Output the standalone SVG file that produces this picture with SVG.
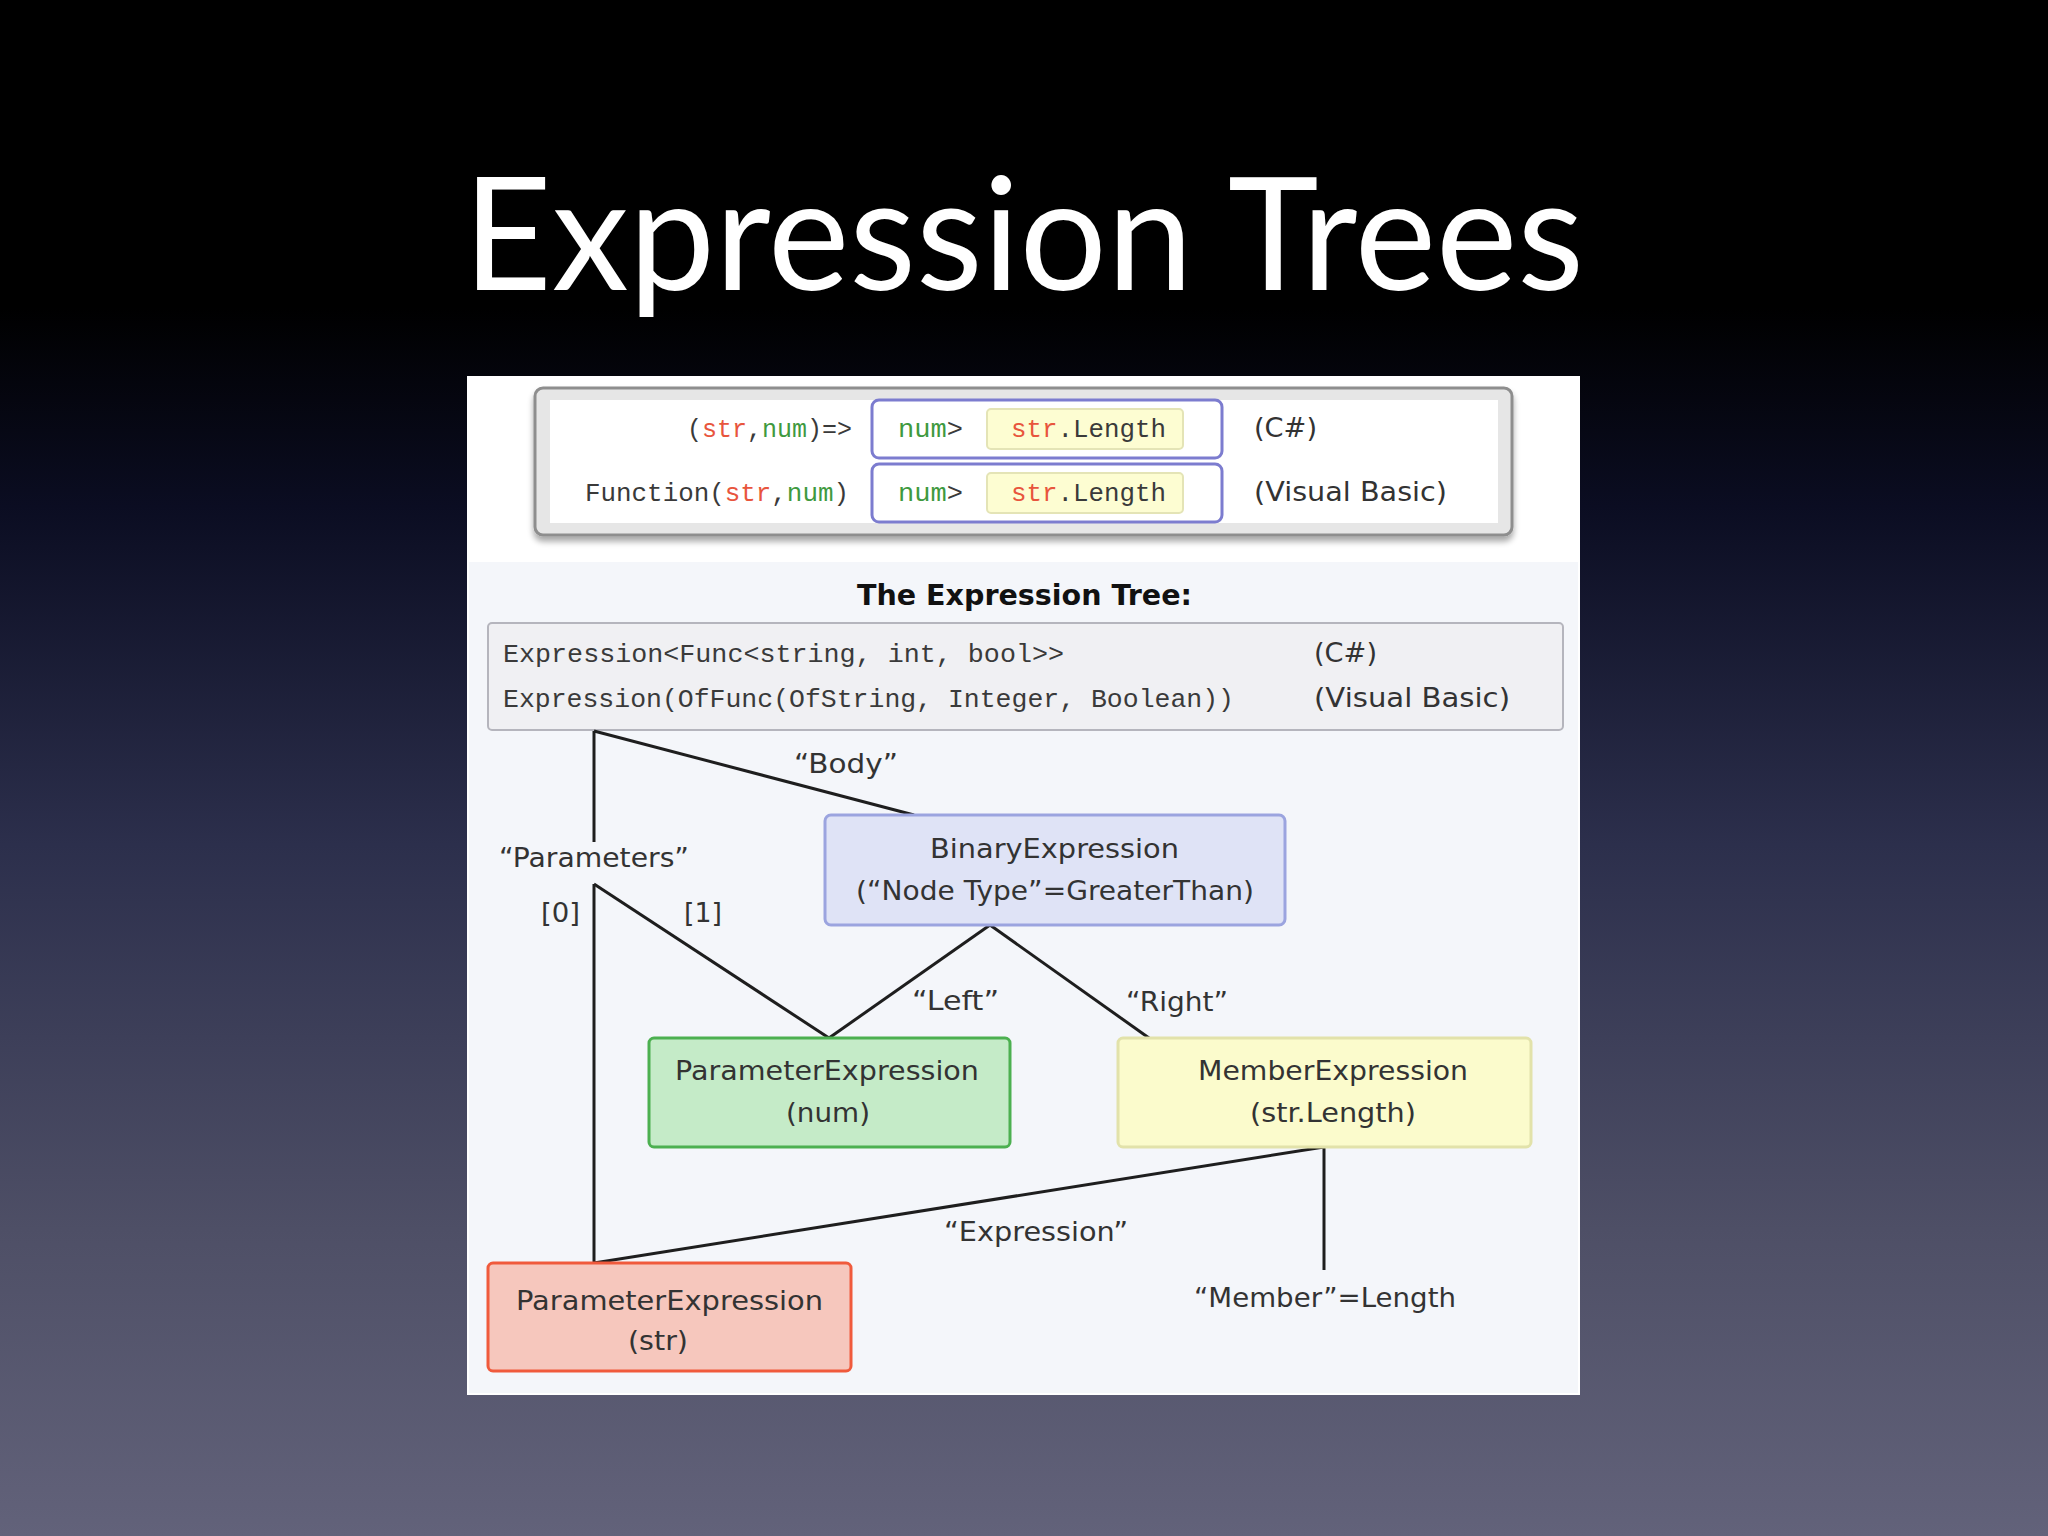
<svg xmlns="http://www.w3.org/2000/svg" width="2048" height="1536" viewBox="0 0 2048 1536">
<defs>
<linearGradient id="bg" x1="0" y1="0" x2="0" y2="1">
<stop offset="0" stop-color="#000000"/>
<stop offset="0.2" stop-color="#000000"/>
<stop offset="0.33" stop-color="#0b0d22"/>
<stop offset="0.55" stop-color="#2c2f4c"/>
<stop offset="0.8" stop-color="#4e4f66"/>
<stop offset="1" stop-color="#62627a"/>
</linearGradient>
<filter id="sh" x="-5%" y="-10%" width="110%" height="130%">
<feGaussianBlur in="SourceAlpha" stdDeviation="3"/>
<feOffset dx="0" dy="5" result="b"/>
<feComponentTransfer><feFuncA type="linear" slope="0.35"/></feComponentTransfer>
<feMerge><feMergeNode/><feMergeNode in="SourceGraphic"/></feMerge>
</filter>
</defs>
<style>
.code{font-family:"Liberation Mono","DejaVu Sans Mono",monospace;font-size:25px;fill:#3a3a3a}
.lbl{font-family:"DejaVu Sans","Liberation Sans",sans-serif;font-size:27px;fill:#333}
.s{fill:#e8553d}.n{fill:#3f9a3f}
.conn{stroke:#1e1e1e;stroke-width:3;fill:none}
.node text{font-family:"DejaVu Sans","Liberation Sans",sans-serif;font-size:27px;fill:#333}
</style>
<rect width="2048" height="1536" fill="url(#bg)"/>
<text x="463" y="290" font-family="Lato,'Open Sans',sans-serif" font-size="158" fill="#ffffff" textLength="1121" lengthAdjust="spacingAndGlyphs">Expression Trees</text>

<g id="panel">
<rect x="467" y="376" width="1113" height="1019" fill="#ffffff"/>
<rect x="469" y="562" width="1109" height="831" fill="#f4f6fa"/>
</g>

<g id="lambda-box">
<rect x="535" y="388" width="977" height="147" rx="8" fill="#e6e6e6" stroke="#8e8e8e" stroke-width="3" filter="url(#sh)"/>
<rect x="550" y="400" width="948" height="123" fill="#ffffff"/>
<rect x="872" y="400" width="350" height="58" rx="7" fill="#ffffff" stroke="#7c7ccf" stroke-width="3"/>
<rect x="872" y="464" width="350" height="58" rx="7" fill="#ffffff" stroke="#7c7ccf" stroke-width="3"/>
<rect x="987" y="409" width="196" height="40" rx="4" fill="#fdfdd2" stroke="#e4e4b6" stroke-width="2"/>
<rect x="987" y="473" width="196" height="40" rx="4" fill="#fdfdd2" stroke="#e4e4b6" stroke-width="2"/>
<text class="code" x="687" y="437" textLength="165" lengthAdjust="spacingAndGlyphs">(<tspan class="s">str</tspan>,<tspan class="n">num</tspan>)=&gt;</text>
<text class="code" x="898" y="437" textLength="65" lengthAdjust="spacingAndGlyphs"><tspan class="n">num</tspan>&gt;</text>
<text class="code" x="1011" y="437" textLength="155" lengthAdjust="spacingAndGlyphs"><tspan class="s">str</tspan>.Length</text>
<text class="lbl" x="1254" y="437" textLength="63" lengthAdjust="spacingAndGlyphs">(C#)</text>
<text class="code" x="585" y="501" textLength="264" lengthAdjust="spacingAndGlyphs">Function(<tspan class="s">str</tspan>,<tspan class="n">num</tspan>)</text>
<text class="code" x="898" y="501" textLength="65" lengthAdjust="spacingAndGlyphs"><tspan class="n">num</tspan>&gt;</text>
<text class="code" x="1011" y="501" textLength="155" lengthAdjust="spacingAndGlyphs"><tspan class="s">str</tspan>.Length</text>
<text class="lbl" x="1254" y="501" textLength="193" lengthAdjust="spacingAndGlyphs">(Visual Basic)</text>
</g>

<text x="857" y="605" font-family="'DejaVu Sans',sans-serif" font-weight="bold" font-size="29" fill="#111" textLength="335" lengthAdjust="spacingAndGlyphs">The Expression Tree:</text>

<g id="root-type">
<rect x="488" y="623" width="1075" height="107" rx="4" fill="#f0f0f3" stroke="#b5b5bd" stroke-width="2"/>
<text class="code" x="503" y="662" textLength="561" lengthAdjust="spacingAndGlyphs">Expression&lt;Func&lt;string, int, bool&gt;&gt;</text>
<text class="code" x="503" y="707" textLength="731" lengthAdjust="spacingAndGlyphs">Expression(OfFunc(OfString, Integer, Boolean))</text>
<text class="lbl" x="1314" y="662" textLength="63" lengthAdjust="spacingAndGlyphs">(C#)</text>
<text class="lbl" x="1314" y="707" textLength="196" lengthAdjust="spacingAndGlyphs">(Visual Basic)</text>
</g>

<g id="connectors">
<path class="conn" d="M594,731 V842"/>
<path class="conn" d="M594,731 L914,815"/>
<path class="conn" d="M594,884 V1263"/>
<path class="conn" d="M594,884 L829,1038"/>
<path class="conn" d="M990,925 L829,1038"/>
<path class="conn" d="M990,925 L1149,1038"/>
<path class="conn" d="M1324,1147 L594,1263"/>
<path class="conn" d="M1324,1147 V1270"/>
<text class="lbl" x="794" y="773" textLength="104" lengthAdjust="spacingAndGlyphs">“Body”</text>
<text class="lbl" x="499" y="867" textLength="190" lengthAdjust="spacingAndGlyphs">“Parameters”</text>
<text class="lbl" x="541" y="922" textLength="39" lengthAdjust="spacingAndGlyphs">[0]</text>
<text class="lbl" x="684" y="922" textLength="38" lengthAdjust="spacingAndGlyphs">[1]</text>
<text class="lbl" x="912" y="1010" textLength="87" lengthAdjust="spacingAndGlyphs">“Left”</text>
<text class="lbl" x="1126" y="1011" textLength="102" lengthAdjust="spacingAndGlyphs">“Right”</text>
<text class="lbl" x="944" y="1241" textLength="184" lengthAdjust="spacingAndGlyphs">“Expression”</text>
<text class="lbl" x="1194" y="1307" textLength="262" lengthAdjust="spacingAndGlyphs">“Member”=Length</text>
</g>

<g id="binary" class="node">
<rect x="825" y="815" width="460" height="110" rx="6" fill="#dfe3f6" stroke="#9ba4df" stroke-width="3"/>
<text x="930" y="858" textLength="249" lengthAdjust="spacingAndGlyphs">BinaryExpression</text>
<text x="856" y="900" textLength="398" lengthAdjust="spacingAndGlyphs">(“Node Type”=GreaterThan)</text>
</g>

<g id="param-num" class="node">
<rect x="649" y="1038" width="361" height="109" rx="5" fill="#c5ebc8" stroke="#4cb050" stroke-width="3"/>
<text x="675" y="1080" textLength="304" lengthAdjust="spacingAndGlyphs">ParameterExpression</text>
<text x="786" y="1122" textLength="84" lengthAdjust="spacingAndGlyphs">(num)</text>
</g>

<g id="member" class="node">
<rect x="1118" y="1038" width="413" height="109" rx="5" fill="#fbfbcc" stroke="#e2e2aa" stroke-width="3"/>
<text x="1198" y="1080" textLength="270" lengthAdjust="spacingAndGlyphs">MemberExpression</text>
<text x="1250" y="1122" textLength="166" lengthAdjust="spacingAndGlyphs">(str.Length)</text>
</g>

<g id="param-str" class="node">
<rect x="488" y="1263" width="363" height="108" rx="5" fill="#f6c7bd" stroke="#f05a3c" stroke-width="3"/>
<text x="516" y="1310" textLength="307" lengthAdjust="spacingAndGlyphs">ParameterExpression</text>
<text x="628" y="1350" textLength="60" lengthAdjust="spacingAndGlyphs">(str)</text>
</g>
</svg>
